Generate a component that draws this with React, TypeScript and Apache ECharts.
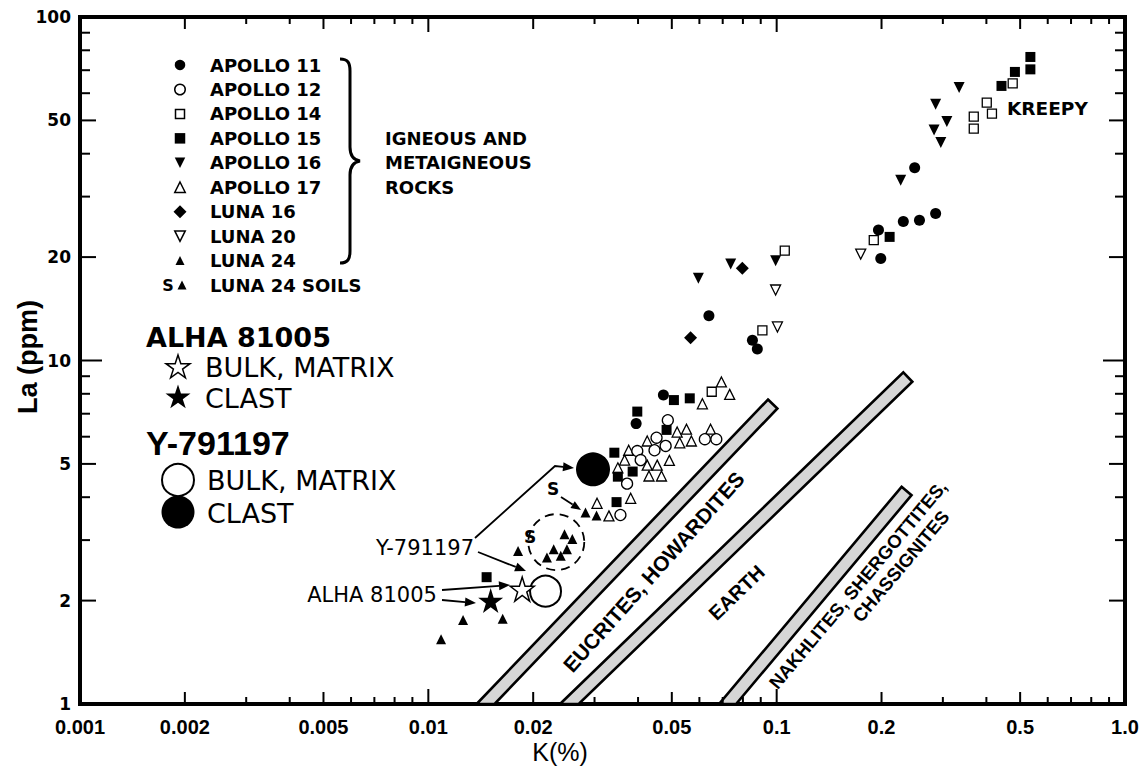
import React, { useEffect, useRef } from "react";
import * as echarts from "echarts";

// ---------- data: [K (%), La (ppm)] ----------
const apollo11: number[][] = [[0.249, 36.4], [0.196, 24.0], [0.231, 25.4], [0.257, 25.6], [0.286, 26.8], [0.199, 19.8], [0.0639, 13.5], [0.0852, 11.45], [0.088, 10.8], [0.0473, 7.94], [0.0395, 6.55]];
const apollo12: number[][] = [[0.0487, 6.7], [0.0452, 5.96], [0.048, 5.64], [0.0398, 5.45], [0.0446, 5.48], [0.0407, 5.13], [0.0622, 5.9], [0.0671, 5.9], [0.0372, 4.38], [0.0356, 3.55]];
const apollo14: number[][] = [[0.476, 64.1], [0.401, 56.3], [0.415, 52.3], [0.368, 51.3], [0.368, 47.3], [0.19, 22.4], [0.1055, 20.9], [0.091, 12.24], [0.0651, 8.11]];
const apollo15: number[][] = [[0.535, 76.5], [0.535, 70.4], [0.483, 69.2], [0.442, 63.0], [0.211, 22.9], [0.0507, 7.67], [0.0563, 7.76], [0.0398, 7.1], [0.0483, 6.28], [0.0342, 5.39], [0.0386, 4.75], [0.035, 4.59], [0.0347, 3.87], [0.0147, 2.34]];
const apollo16: number[][] = [[0.334, 62.3], [0.286, 55.7], [0.308, 49.6], [0.283, 46.9], [0.296, 43.1], [0.227, 33.5], [0.0993, 19.5], [0.0738, 19.1], [0.0596, 17.35]];
const apollo17: number[][] = [[0.0694, 8.66], [0.0733, 7.97], [0.0612, 7.48], [0.0518, 6.19], [0.0551, 6.31], [0.0646, 6.31], [0.0425, 5.83], [0.0527, 5.76], [0.0569, 5.83], [0.0376, 5.48], [0.0366, 5.13], [0.0425, 4.96], [0.0454, 4.96], [0.0492, 5.12], [0.043, 4.61], [0.0467, 4.61], [0.035, 4.87], [0.0381, 3.97], [0.0305, 3.84], [0.033, 3.53]];
const luna16: number[][] = [[0.0797, 18.55], [0.0566, 11.65]];
const luna20: number[][] = [[0.1743, 20.4], [0.0993, 16.04], [0.1005, 12.52]];
const luna24: number[][] = [[0.0181, 2.79], [0.01258, 1.756], [0.01635, 1.771], [0.01088, 1.543]];
const luna24Soils: number[][] = [[0.02826, 3.61], [0.0304, 3.54], [0.0229, 2.82], [0.0219, 2.67], [0.0246, 3.12], [0.0259, 3.02], [0.025, 2.82], [0.024, 2.7]];
const alhaBulk: number[][] = [[0.0186, 2.16]];
const alhaClast: number[][] = [[0.0151, 2.0]];
const yBulk: number[][] = [[0.0217, 2.13]];
const yClast: number[][] = [[0.0297, 4.82]];
const soilGroup: number[][] = [[0.0233, 2.96]];

// K/La reference bands: start at La = 1, end at top
const bandFrom: number[][] = [[0.0146, 1], [0.0254, 1], [0.0723, 1]];
const bandTo: number[][] = [[0.0974, 7.47], [0.238, 8.95], [0.236, 4.17]];
const bandLabels: string[][] = [["EUCRITES, HOWARDITES"], ["EARTH"], ["NAKHLITES, SHERGOTTITES,", "CHASSIGNITES"]];

// axes
const xLabelValues = [0.001, 0.002, 0.005, 0.01, 0.02, 0.05, 0.1, 0.2, 0.5, 1];
const xTickLabels = ["0.001", "0.002", "0.005", "0.01", "0.02", "0.05", "0.1", "0.2", "0.5", "1.0"];
const yLabelValues = [1, 2, 5, 10, 20, 50, 100];
const yTickLabels = ["1", "2", "5", "10", "20", "50", "100"];
const xDecades = [0.001, 0.01, 0.1, 1];
const yDecades = [1, 10, 100];

const legendNames = ["APOLLO 11", "APOLLO 12", "APOLLO 14", "APOLLO 15", "APOLLO 16", "APOLLO 17", "LUNA 16", "LUNA 20", "LUNA 24", "LUNA 24 SOILS"];
const legendKinds = ["fcircle", "ocircle", "osquare", "fsquare", "fdown", "oup", "fdiamond", "odown", "fup", "soil"];

// ---------- styles / layout ----------
const STAR = "path://M50 0 L61.2 34.5 L97.6 34.5 L68.2 55.9 L79.4 90.5 L50 69.1 L20.6 90.5 L31.8 55.9 L2.4 34.5 L38.8 34.5 Z";
const DV = '"DejaVu Sans", sans-serif';
const LS = '"Liberation Sans", Arial, sans-serif';
const LSN = '"Liberation Sans Narrow", "Liberation Sans", Arial, sans-serif';
const BAND_HALF = 6.5;
const bandLabelLayout = [
  [{ t: 0.51, off: 30, size: 21, tilt: 2 }],
  [{ t: 0.42, off: 36, size: 20, tilt: 0 }],
  [{ t: 0.63, off: 23, size: 18.5, tilt: 0 }, { t: 0.78, off: 44, size: 18.5, tilt: 0 }],
];

const BRACE_D = "M0 0 C8 0 10 4 10 12 L10 88 C10 97 14 101 20 102 C14 103 10 107 10 116 L10 192 C10 200 8 204 0 204";
echarts.graphic.registerShape("brace", echarts.graphic.extendPath(BRACE_D, {}));

function near(a: number, b: number) {
  return Math.abs(a / b - 1) < 1e-6;
}
function buildTicks(decades: number[], axisConst: number, isX: boolean) {
  const out: number[][] = [];
  const labels = isX ? xLabelValues : yLabelValues;
  decades.forEach((d, di) => {
    const last = di === decades.length - 1;
    for (let m = 1; m <= (last ? 1 : 9); m++) {
      const v = d * m;
      const kind = m === 1 ? 2 : labels.some((l) => near(l, v)) ? 1 : 0;
      out.push(isX ? [v, axisConst, kind] : [axisConst, v, kind]);
    }
  });
  return out;
}
const xTickData = buildTicks(xDecades, 1, true);
const yTickData = buildTicks(yDecades, 0.001, false);

const open = (w = 1.4) => ({ color: "#fff", borderColor: "#000", borderWidth: w, opacity: 1 });
const filled = { color: "#000", opacity: 1 };

function scatter(name: string, data: number[][], symbol: string, size: number, style: any, rotate = 0, z = 4) {
  return { type: "scatter", name, data, symbol, symbolSize: size, symbolRotate: rotate, itemStyle: style, z, silent: true };
}

function starPts(cx: number, cy: number, s: number) {
  const R = s / 1.9;
  const pts: number[][] = [];
  for (let i = 0; i < 10; i++) {
    const a = ((-90 + 36 * i) * Math.PI) / 180;
    const r = i % 2 === 0 ? R : R * 0.382;
    pts.push([cx + r * Math.cos(a), cy + R * 0.05 + r * Math.sin(a)]);
  }
  return pts;
}

function sym(kind: string, x: number, y: number, s: number): any[] {
  const h = s / 2;
  const fs = { fill: "#000" };
  const os = { fill: "#fff", stroke: "#000", lineWidth: 1.5 };
  switch (kind) {
    case "fcircle": return [{ type: "circle", shape: { cx: x, cy: y, r: h }, style: fs }];
    case "ocircle": return [{ type: "circle", shape: { cx: x, cy: y, r: h }, style: os }];
    case "osquare": return [{ type: "rect", shape: { x: x - h, y: y - h, width: s, height: s }, style: os }];
    case "fsquare": return [{ type: "rect", shape: { x: x - h, y: y - h, width: s, height: s }, style: fs }];
    case "fdown": return [{ type: "polygon", shape: { points: [[x - h, y - h], [x + h, y - h], [x, y + h]] }, style: fs }];
    case "odown": return [{ type: "polygon", shape: { points: [[x - h, y - h], [x + h, y - h], [x, y + h]] }, style: os }];
    case "oup": return [{ type: "polygon", shape: { points: [[x, y - h], [x + h, y + h], [x - h, y + h]] }, style: os }];
    case "fup": return [{ type: "polygon", shape: { points: [[x, y - h], [x + h, y + h], [x - h, y + h]] }, style: fs }];
    case "fdiamond": return [{ type: "polygon", shape: { points: [[x, y - h], [x + h, y], [x, y + h], [x - h, y]] }, style: fs }];
    case "soil":
      return [
        { type: "text", style: { text: "S", x: x - 12, y, font: `bold 16px ${DV}`, fill: "#000", align: "center", verticalAlign: "middle", textAlign: "center", textVerticalAlign: "middle" } },
        { type: "polygon", shape: { points: [[x + 2, y - h], [x + 2 + h, y + h], [x + 2 - h, y + h]] }, style: fs },
      ];
    case "ostar": return [{ type: "polygon", shape: { points: starPts(x, y, s) }, style: { fill: "#fff", stroke: "#000", lineWidth: 1.5 } }];
    case "fstar": return [{ type: "polygon", shape: { points: starPts(x, y, s) }, style: fs }];
  }
  return [];
}

function txt(text: string, x: number, y: number, font: string, align = "left", rotation = 0) {
  return { type: "text", x, y, rotation, style: { text, x: 0, y: 0, font, fill: "#000", align, verticalAlign: "middle", textAlign: align, textVerticalAlign: "middle" }, silent: true };
}

function arrow(points: number[][], headLen = 11, headW = 4.5): any[] {
  const n = points.length;
  const tip = points[n - 1];
  const prev = points[n - 2];
  const dx = tip[0] - prev[0];
  const dy = tip[1] - prev[1];
  const L = Math.hypot(dx, dy);
  const ux = dx / L;
  const uy = dy / L;
  const base = [tip[0] - ux * headLen, tip[1] - uy * headLen];
  const pts = points.slice(0, n - 1).concat([base]);
  return [
    { type: "polyline", shape: { points: pts }, style: { stroke: "#000", lineWidth: 1.8, fill: "none" }, silent: true },
    { type: "polygon", shape: { points: [tip, [base[0] - uy * headW, base[1] + ux * headW], [base[0] + uy * headW, base[1] - ux * headW]] }, style: { fill: "#000" }, silent: true },
  ];
}

function buildGraphic() {
  const els: any[] = [];
  const rowY0 = 65;
  const rowStep = 24.45;
  legendNames.forEach((name, i) => {
    const y = rowY0 + i * rowStep;
    const kind = legendKinds[i];
    const size = kind === "fdiamond" ? 13 : kind === "osquare" ? 9 : kind === "fup" || kind === "soil" ? 9 : 10.5;
    els.push(...sym(kind, 180, y, size));
    els.push(txt(name, 210, y, `bold 18px ${DV}`));
  });
  els.push({ type: "brace", x: 340, y: 59, style: { stroke: "#000", lineWidth: 3, fill: "none" }, silent: true });
  els.push(txt("IGNEOUS AND", 385, 138, `bold 18px ${DV}`));
  els.push(txt("METAIGNEOUS", 385, 162.5, `bold 18px ${DV}`));
  els.push(txt("ROCKS", 385, 187, `bold 18px ${DV}`));

  els.push(txt("ALHA 81005", 146, 337, `bold 27px ${DV}`));
  els.push(...sym("ostar", 178, 367, 24));
  els.push(txt("BULK, MATRIX", 205, 367, `27px ${DV}`));
  els.push(...sym("fstar", 178, 397, 25));
  els.push(txt("CLAST", 205, 398, `27px ${DV}`));
  els.push(txt("Y-791197", 146, 443, `bold 34px ${LS}`));
  els.push({ type: "circle", shape: { cx: 178, cy: 480, r: 16 }, style: { fill: "#fff", stroke: "#000", lineWidth: 2 }, silent: true });
  els.push(txt("BULK, MATRIX", 207, 480, `27px ${DV}`));
  els.push({ type: "circle", shape: { cx: 178, cy: 512, r: 16.5 }, style: { fill: "#000" }, silent: true });
  els.push(txt("CLAST", 207, 513, `27px ${DV}`));

  els.push(txt("KREEPY", 1007, 108, `bold 18.5px ${DV}`));

  els.push(txt("Y-791197", 425, 548, `21px ${DV}`, "center"));
  els.push(txt("ALHA 81005", 372, 595, `21px ${DV}`, "center"));
  els.push(...arrow([[478, 552], [526, 571]]));
  els.push(...arrow([[475, 538], [555, 466], [574, 468]]));
  els.push(...arrow([[442, 590], [510, 585]]));
  els.push(...arrow([[442, 600], [476, 603]]));
  els.push(...arrow([[561, 497], [581, 510]], 10, 4));
  els.push(txt("S", 553, 489, `bold 17px ${DV}`, "center"));
  els.push(txt("S", 530, 537, `bold 17px ${DV}`, "center"));

  els.push(txt("La (ppm)", 28, 357, `bold 27px ${LS}`, "center", Math.PI / 2));
  els.push(txt("K(%)", 560, 752, `25px ${LS}`, "center"));
  return els;
}

function renderBand(params: any, api: any) {
  const i = params.dataIndex;
  const p0 = api.coord([api.value(0), api.value(1)]);
  const p1 = api.coord([api.value(2), api.value(3)]);
  const dx = p1[0] - p0[0];
  const dy = p1[1] - p0[1];
  const L = Math.hypot(dx, dy);
  const ux = dx / L;
  const uy = dy / L;
  const nx = -uy;
  const ny = ux;
  const corner = (s: number) => {
    const cx = p1[0] + s * nx * BAND_HALF;
    const cy = p1[1] + s * ny * BAND_HALF;
    const u = (p0[1] - cy) / uy;
    return [[cx, cy], [cx + u * ux, cy + u * uy]];
  };
  const [tA, bA] = corner(-1);
  const [tB, bB] = corner(1);
  const angle = Math.atan2(-dy, dx);
  const children: any[] = [
    { type: "polygon", shape: { points: [tA, tB, bB, bA] }, style: { fill: "#d6d6d6", stroke: "#000", lineWidth: 2.6 } },
  ];
  bandLabels[i].forEach((text, j) => {
    const lay = bandLabelLayout[i][j];
    const cx = p0[0] + dx * lay.t + nx * lay.off;
    const cy = p0[1] + dy * lay.t + ny * lay.off;
    children.push({ type: "text", x: cx, y: cy, rotation: angle + (lay.tilt * Math.PI) / 180, style: { text, x: 0, y: 0, font: `bold ${lay.size}px ${LS}`, fill: "#000", align: "center", verticalAlign: "middle", textAlign: "center", textVerticalAlign: "middle" } });
  });
  return { type: "group", children };
}

function renderXTick(params: any, api: any) {
  const v = api.value(0);
  const kind = api.value(2);
  const b = api.coord([v, 1]);
  const t = api.coord([v, 100]);
  const len = kind === 2 ? 15 : kind === 1 ? 12 : 7;
  const st = { stroke: "#000", lineWidth: 2 };
  const children: any[] = [
    { type: "line", shape: { x1: b[0], y1: b[1], x2: b[0], y2: b[1] - len }, style: st },
    { type: "line", shape: { x1: t[0], y1: t[1], x2: t[0], y2: t[1] + len }, style: st },
  ];
  const li = xLabelValues.findIndex((l) => near(l, v));
  if (li >= 0) {
    children.push({ type: "text", x: b[0], y: b[1] + 23, style: { text: xTickLabels[li], x: 0, y: 0, font: `bold 20px ${LSN}`, fill: "#000", align: "center", verticalAlign: "middle", textAlign: "center", textVerticalAlign: "middle" } });
  }
  return { type: "group", children };
}

function renderYTick(params: any, api: any) {
  const v = api.value(1);
  const kind = api.value(2);
  const l = api.coord([0.001, v]);
  const r = api.coord([1, v]);
  const len = kind === 2 ? 22 : kind === 1 ? 16 : 10;
  const st = { stroke: "#000", lineWidth: 2 };
  const children: any[] = [
    { type: "line", shape: { x1: l[0], y1: l[1], x2: l[0] + len, y2: l[1] }, style: st },
    { type: "line", shape: { x1: r[0], y1: r[1], x2: r[0] - len, y2: r[1] }, style: st },
  ];
  const li = yLabelValues.findIndex((x) => near(x, v));
  if (li >= 0) {
    children.push({ type: "text", x: l[0] - 9, y: l[1], style: { text: yTickLabels[li], x: 0, y: 0, font: `bold 17px ${DV}`, fill: "#000", align: "right", verticalAlign: "middle", textAlign: "right", textVerticalAlign: "middle" } });
  }
  return { type: "group", children };
}

function buildOption() {
  const bandData = bandFrom.map((f, i) => [f[0], f[1], bandTo[i][0], bandTo[i][1]]);
  return {
    animation: false,
    backgroundColor: "#fff",
    grid: { left: 80, right: 18, top: 17, bottom: 65, show: true, borderColor: "#000", borderWidth: 4, backgroundColor: "transparent" },
    xAxis: { type: "log", logBase: 10, min: 0.001, max: 1, axisLine: { show: false }, axisTick: { show: false }, axisLabel: { show: false }, splitLine: { show: false } },
    yAxis: { type: "log", logBase: 10, min: 1, max: 100, axisLine: { show: false }, axisTick: { show: false }, axisLabel: { show: false }, splitLine: { show: false } },
    graphic: { elements: buildGraphic() },
    series: [
      { type: "custom", name: "bands", coordinateSystem: "cartesian2d", data: bandData, encode: { x: [0, 2], y: [1, 3] }, renderItem: renderBand, z: 1, silent: true },
      { type: "custom", name: "xticks", coordinateSystem: "cartesian2d", data: xTickData, encode: { x: 0, y: 1 }, renderItem: renderXTick, z: 6, silent: true },
      { type: "custom", name: "yticks", coordinateSystem: "cartesian2d", data: yTickData, encode: { x: 0, y: 1 }, renderItem: renderYTick, z: 6, silent: true },
      { type: "scatter", name: "soil group", data: soilGroup, symbol: "circle", symbolSize: 56, itemStyle: { color: "rgba(0,0,0,0)", borderColor: "#000", borderWidth: 1.8, borderType: [9, 6], opacity: 1 }, z: 2, silent: true },
      scatter("Y-791197 bulk", yBulk, "circle", 31, open(2)),
      scatter("Y-791197 clast", yClast, "circle", 34, filled),
      scatter("ALHA 81005 bulk", alhaBulk, STAR, 24, open(1.5)),
      scatter("ALHA 81005 clast", alhaClast, STAR, 25, filled),
      scatter("APOLLO 17", apollo17, "triangle", 10, open(1.3)),
      scatter("APOLLO 12", apollo12, "circle", 11, open(1.3)),
      scatter("APOLLO 14", apollo14, "rect", 9, open(1.3)),
      scatter("LUNA 20", luna20, "triangle", 10, open(1.3), 180),
      scatter("APOLLO 11", apollo11, "circle", 11, filled),
      scatter("APOLLO 15", apollo15, "rect", 10, filled),
      scatter("APOLLO 16", apollo16, "triangle", 11, filled, 180),
      scatter("LUNA 16", luna16, "diamond", 13, filled),
      scatter("LUNA 24", luna24, "triangle", 10, filled),
      scatter("LUNA 24 SOILS", luna24Soils, "triangle", 10, filled),
    ],
  };
}

export default function App() {
  const ref = useRef<HTMLDivElement>(null);
  useEffect(() => {
    if (!ref.current) return;
    const chart = echarts.init(ref.current, null, { renderer: "svg" });
    chart.setOption(buildOption() as any);
    return () => chart.dispose();
  }, []);
  return <div ref={ref} style={{ position: "fixed", left: 0, top: 0, width: 1143, height: 769, background: "#fff" }} />;
}
